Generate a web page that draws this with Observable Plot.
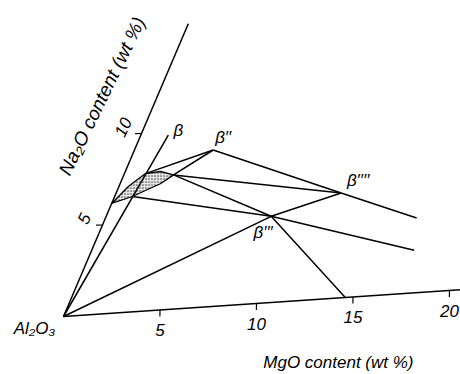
<!DOCTYPE html>
<html><head><meta charset="utf-8">
<script src="https://cdn.jsdelivr.net/npm/d3@7"></script>
<script src="https://cdn.jsdelivr.net/npm/@observablehq/plot@0.6"></script>
<style>body{margin:0;background:#fff} svg{display:block}</style>
</head><body><div id="chart"></div>
<script>
// Named composition points (MgO wt%, Na2O wt%)
const pointNames = ["Al2O3","β","β''","β'''","β''''","T","P1","B","endA","endB","endC","mgoEnd","naEnd"];
const pointMgO   = [0, 1.47, 4.2, 8.8, 12.0, 2.65, 1.12, 0.95, 16.6, 17.2, 14.6, 20.6, 0];
const pointNa2O  = [0, 9.8, 8.8, 4.85, 5.9, 7.55, 7.73, 6.49, 4.2, 2.4, 0, 0, 16];

// Tie lines / axes (from -> to)
const lineFrom = ["Al2O3","Al2O3","Al2O3","Al2O3","P1","T","T","T","B","β''","β''''","β'''","β'''","β'''"];
const lineTo   = ["mgoEnd","naEnd","β","β'''","β''","β''","β''''","β'''","β'''","β''''","endA","β''''","endB","endC"];

// Shaded (dotted) two-phase region
const shadeMgO  = [0.02, 0.5, 1.12, 1.88, 2.65, 2.15, 1.5, 0.95, 0.02];
const shadeNa2O = [6.2, 7.07, 7.73, 7.79, 7.55, 7.1, 6.78, 6.49, 6.2];

// Phase labels
const labelText = ["β", "β′′", "β′′′", "β′′′′"];
const labelAt   = ["β", "β''", "β'''", "β''''"];
const labelDx   = [10, 10, -8, 17];
const labelDy   = [-5, -12, 16, -12];

// Axis ticks
const mgoTicks  = [5, 10, 15, 20];
const na2oTicks = [5, 10];

// oblique projection (MgO, Na2O) -> plane
const px = (m, n) => 19.3 * m + 7.8 * n;
const py = (m, n) => 1.3 * m + 18.3 * n;

const pts = new Map(pointNames.map((k, i) => [k, {m: pointMgO[i], n: pointNa2O[i]}]));
const segs = lineFrom.map((f, i) => ({a: pts.get(f), b: pts.get(lineTo[i])}));
const shade = shadeMgO.map((m, i) => ({m, n: shadeNa2O[i]}));

const font = "Liberation Sans, Arial, sans-serif";

const labelMarks = labelText.map((t, i) => {
  const p = pts.get(labelAt[i]);
  return Plot.text([t], {x: px(p.m, p.n), y: py(p.m, p.n), text: d => d, dx: labelDx[i], dy: labelDy[i], fontSize: 17, fontStyle: "italic", fontFamily: font});
});

const svg = Plot.plot({
  width: 460, height: 374,
  marginLeft: 0, marginRight: 0, marginTop: 0, marginBottom: 0,
  x: {domain: [-63, 397], axis: null},
  y: {domain: [-58, 316], axis: null},
  style: {background: "white", color: "black"},
  marks: [
    Plot.line(shade, {x: d => px(d.m, d.n), y: d => py(d.m, d.n), fill: "url(#dots)", stroke: "black", strokeWidth: 1.3}),
    Plot.link(segs, {x1: d => px(d.a.m, d.a.n), y1: d => py(d.a.m, d.a.n), x2: d => px(d.b.m, d.b.n), y2: d => py(d.b.m, d.b.n), stroke: "black", strokeWidth: 1.5}),
    Plot.link(mgoTicks, {x1: d => px(d, 0), y1: d => py(d, 0), x2: d => px(d + 0.14, -0.36), y2: d => py(d + 0.14, -0.36), stroke: "black", strokeWidth: 1.2}),
    Plot.link(na2oTicks, {x1: d => px(0, d), y1: d => py(0, d), x2: d => px(-0.34, d + 0.02), y2: d => py(-0.34, d + 0.02), stroke: "black", strokeWidth: 1.2}),
    Plot.text(mgoTicks, {x: d => px(d, 0), y: d => py(d, 0), text: d => String(d), dy: 21, fontSize: 17, fontStyle: "italic", fontFamily: font}),
    Plot.text(na2oTicks, {x: d => px(0, d), y: d => py(0, d), text: d => String(d), dx: -18, dy: -6, rotate: -65, fontSize: 17, fontStyle: "italic", fontFamily: font}),
    ...labelMarks,
    Plot.text(["Al₂O₃"], {x: px(0, 0), y: py(0, 0), text: d => d, dx: -29, dy: 12, fontSize: 17, fontStyle: "italic", fontFamily: font}),
    Plot.text(["MgO content (wt %)"], {x: px(14.4, 0), y: py(14.4, 0), text: d => d, dx: -3, dy: 65, fontSize: 17, fontStyle: "italic", fontFamily: font}),
    Plot.text(["Na₂O content (wt %)"], {x: px(0, 11), y: py(0, 11), text: d => d, dx: -47, dy: -19, rotate: -64, fontSize: 19, fontStyle: "italic", fontFamily: font})
  ]
});

const defs = d3.select(svg).insert("defs", ":first-child");
const pat = defs.append("pattern").attr("id", "dots").attr("width", 3).attr("height", 3).attr("patternUnits", "userSpaceOnUse");
pat.append("circle").attr("cx", 1.5).attr("cy", 1.5).attr("r", 0.85).attr("fill", "black");

document.getElementById("chart").appendChild(svg);
</script>
</body></html>
